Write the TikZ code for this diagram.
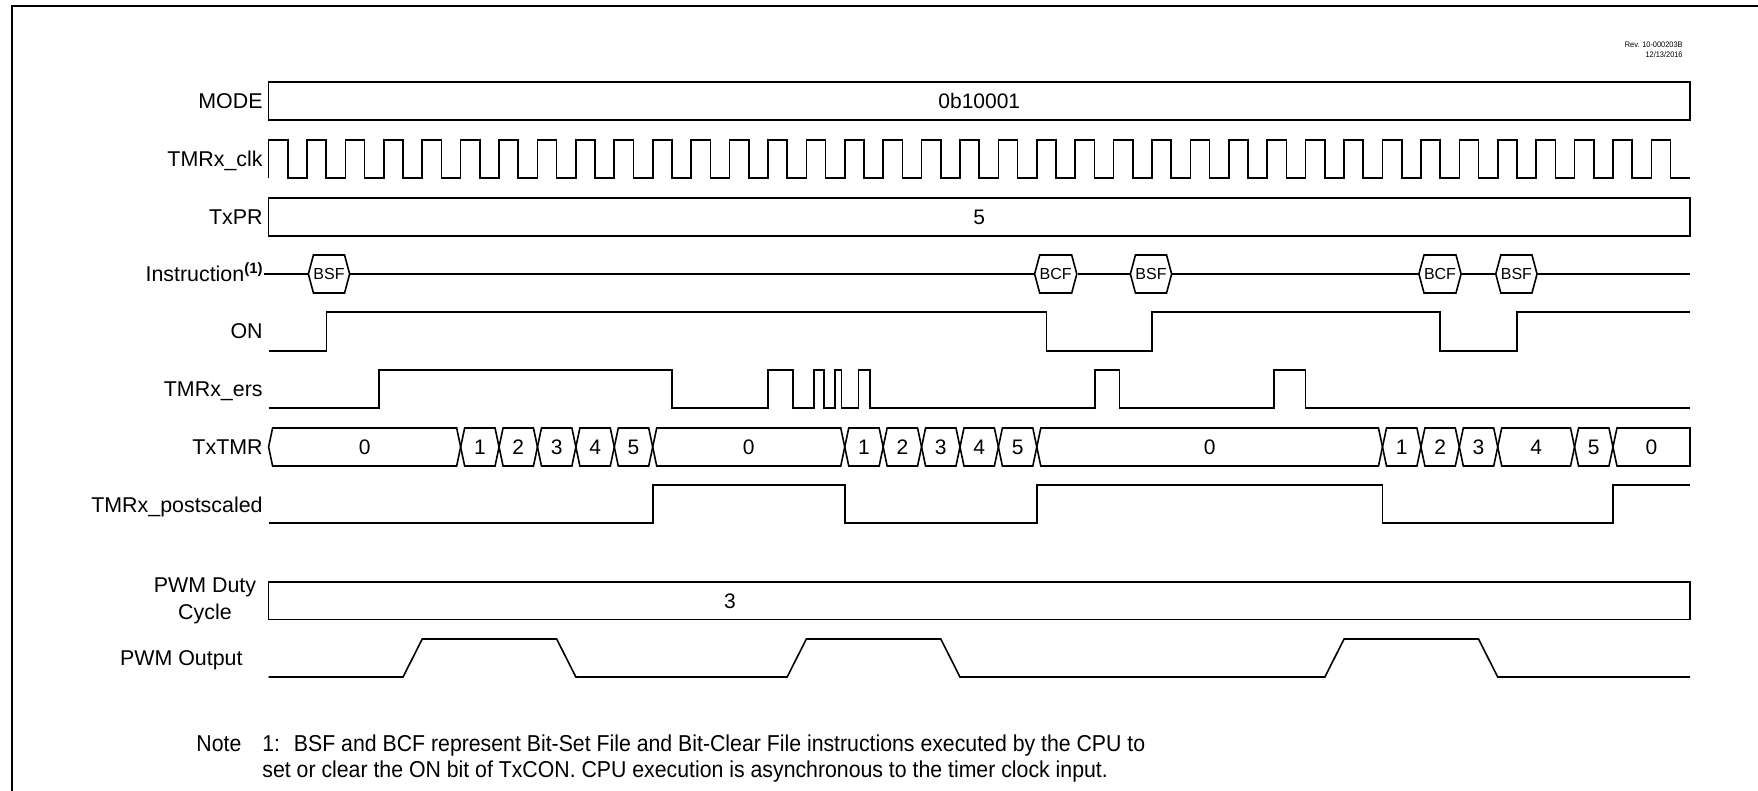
\documentclass[tikz,border=0pt]{standalone}
\usepackage{fontspec}
\setmainfont{Liberation Sans}
\newfontfamily\narrowfont[FakeStretch=0.925]{Liberation Sans}
\usetikzlibrary{shapes.symbols,positioning}
\newcommand{\tk}[1]{268.6+38.41*(#1)}

\begin{document}
\begin{tikzpicture}[
    x=0.5pt, y=-0.5pt,
    lbl/.style={anchor=base east, inner sep=0pt, font=\fontsize{10.7}{12}\selectfont},
    val/.style={anchor=base, inner sep=0pt, font=\fontsize{10.5}{12}\selectfont},
    wave/.style={line width=0.8pt, line join=miter},
    instr/.style={draw, fill=white, line width=0.8pt, shape=signal, signal to=east and west, signal pointer angle=150, minimum width=20pt, minimum height=19pt, inner sep=0pt, font=\fontsize{8}{9}\selectfont},
    notefont/.style={inner sep=0pt, font=\narrowfont\fontsize{11.5}{13}\selectfont},
    frame/.style={line width=1.25pt}
]
    \useasboundingbox (0,0) rectangle (1758,791);
    \draw[frame] (12,791) -- (12,6) -- (1758,6);
    \node[anchor=north east, align=right, inner sep=0pt, font=\narrowfont\fontsize{4}{5}\selectfont] (rev) at (1683,42) {Rev. 10-000203B\\12/13/2016};

    \node[lbl] (modelbl) at (263,108.5) {MODE};
    \node[lbl] (clklbl) at (263,166.5) {TMRx\_clk};
    \node[lbl] (prlbl) at (263,224.5) {TxPR};
    \node[lbl] (instrlbl) at (264,281.5) {Instruction\textsuperscript{\textbf{(1)}}};
    \node[lbl] (onlbl) at (263,339) {ON};
    \node[lbl] (erslbl) at (263,396.5) {TMRx\_ers};
    \node[lbl] (tmrlbl) at (263,454.5) {TxTMR};
    \node[lbl] (postlbl) at (263,512) {TMRx\_postscaled};
    \node[align=center, inner sep=0pt, font=\fontsize{10.7}{13.5}\selectfont] (dutylbl) at (205,600.5) {PWM Duty\\Cycle};
    \node[lbl] (pwmlbl) at (243,665.5) {PWM Output};

    \draw[wave] (268.6,82) rectangle (1690,120);
    \node[val] (modeval) at (979.3,108.5) {0b10001};

    \draw[wave] ({\tk{0}},178) \foreach \i in {0,...,36} { -- ({\tk{\i}},140) -- ({\tk{\i+0.5}},140) -- ({\tk{\i+0.5}},178) -- ({\tk{\i+1}},178) };

    \draw[wave] (268.6,198) rectangle (1690,236);
    \node[val] (prval) at (979.3,224.5) {5};

    \node[instr] (bsf1) at (329,274) {BSF};
    \node[instr] (bcf1) at (1055.7,274) {BCF};
    \node[instr] (bsf2) at (1151,274) {BSF};
    \node[instr] (bcf2) at (1440,274) {BCF};
    \node[instr] (bsf3) at (1516.4,274) {BSF};
    \coordinate (instrend) at (1690,274);
    \draw[wave] (instrlbl.east |- bsf1.west) -- (bsf1.west);
    \draw[wave] (bsf1.east) -- (bcf1.west);
    \draw[wave] (bcf1.east) -- (bsf2.west);
    \draw[wave] (bsf2.east) -- (bcf2.west);
    \draw[wave] (bcf2.east) -- (bsf3.west);
    \draw[wave] (bsf3.east) -- (instrend);

    \draw[wave] (268.6,351) -- (326.4,351) -- (326.4,312) -- (1046.6,312) -- (1046.6,351) -- (1151.8,351) -- (1151.8,312) -- (1440,312) -- (1440,351) -- (1517,351) -- (1517,312) -- (1690,312);

    \draw[wave] (268.6,408) -- (378.8,408) -- (378.8,370) -- (671.9,370) -- (671.9,408) -- (767.7,408) -- (767.7,370) -- (792.7,370) -- (792.7,408) -- (813.7,408) -- (813.7,370) -- (823.7,370) -- (823.7,408) -- (835,408) -- (835,370) -- (841.3,370) -- (841.3,408) -- (858.3,408) -- (858.3,370) -- (870,370) -- (870,408) -- (1094.8,408) -- (1094.8,370) -- (1119.6,370) -- (1119.6,408) -- (1274,408) -- (1274,370) -- (1305.3,370) -- (1305.3,408) -- (1690,408);

    \foreach \a/\b/\v [count=\n] in {0/5/0,5/6/1,6/7/2,7/8/3,8/9/4,9/10/5,10/15/0,15/16/1,16/17/2,17/18/3,18/19/4,19/20/5,20/29/0,29/30/1,30/31/2,31/32/3,32/34/4,34/35/5} {
        \draw[wave] ({\tk{\a}},447) -- ({\tk{\a}+4},428) -- ({\tk{\b}-4},428) -- ({\tk{\b}},447) -- ({\tk{\b}-4},466) -- ({\tk{\a}+4},466) -- cycle;
        \node[val] (cnt\n) at ({\tk{(\a+\b)/2}},454.5) {\v};
    }
    \draw[wave] ({\tk{35}},447) -- ({\tk{35}+4},428) -- (1690,428) -- (1690,466) -- ({\tk{35}+4},466) -- cycle;
    \node[val] (cnt19) at ({\tk{36}},454.5) {0};

    \draw[wave] (268.6,523) -- ({\tk{10}},523) -- ({\tk{10}},485) -- ({\tk{15}},485) -- ({\tk{15}},523) -- ({\tk{20}},523) -- ({\tk{20}},485) -- ({\tk{29}},485) -- ({\tk{29}},523) -- ({\tk{35}},523) -- ({\tk{35}},485) -- ({\tk{37}},485);

    \draw[wave] (268.6,582) rectangle (1690,619.5);
    \node[val] (dutyval) at (730,608) {3};

    \draw[wave] (268.6,677) -- ({\tk{3.5}},677) -- ({\tk{4}},639) -- ({\tk{7.5}},639) -- ({\tk{8}},677) -- ({\tk{13.5}},677) -- ({\tk{14}},639) -- ({\tk{17.5}},639) -- ({\tk{18}},677) -- ({\tk{27.5}},677) -- ({\tk{28}},639) -- ({\tk{31.5}},639) -- ({\tk{32}},677) -- (1690,677);

    \node[notefont, anchor=base west] (notehd) at (196,751) {Note};
    \node[notefont, anchor=base west] (noteone) at (262,751) {1:\hspace{0.6em}BSF and BCF represent Bit-Set File and Bit-Clear File instructions executed by the CPU to};
    \node[notefont, anchor=base west] (notetwo) at (262,777) {set or clear the ON bit of TxCON. CPU execution is asynchronous to the timer clock input.};
\end{tikzpicture}
\end{document}
